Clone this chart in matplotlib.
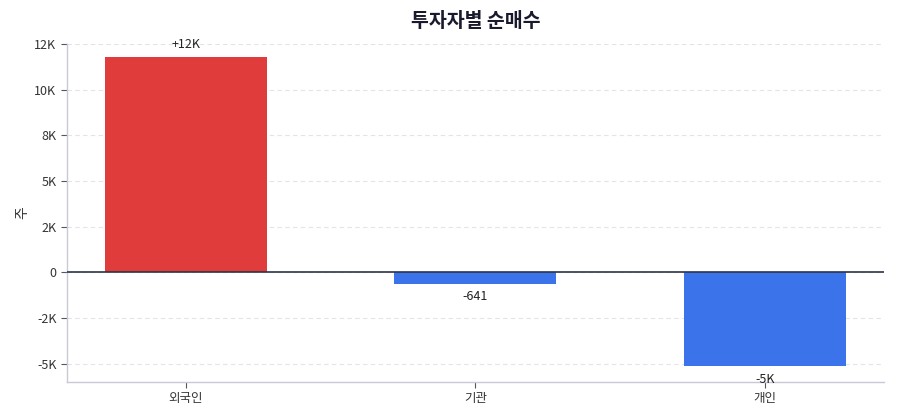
import numpy as np
import matplotlib.pyplot as plt
from matplotlib.ticker import FuncFormatter, MultipleLocator

plt.rcParams['font.family'] = ['Noto Sans CJK KR', 'DejaVu Sans']

investors = ['외국인', '기관', '개인']
net_buy = [11800, -641, -5140]
bar_labels = ['+12K', '-641', '-5K']

pos_color = '#e03c3c'
neg_color = '#3b73eb'


def fmt_k(v, _pos=None):
    if v == 0:
        return '0'
    if abs(v) >= 1000:
        return f'{round(v / 1000):.0f}K'
    return f'{v:.0f}'


fig = plt.figure(figsize=(9, 4.2), dpi=100)
ax = fig.add_axes([0.0744, 0.0905, 0.9076, 0.8045])

x = np.arange(len(investors))
colors = [pos_color if v >= 0 else neg_color for v in net_buy]
bars = ax.bar(x, net_buy, width=0.56, color=colors, zorder=3)

for b, v, lab in zip(bars, net_buy, bar_labels):
    cx = b.get_x() + b.get_width() / 2
    if v >= 0:
        ax.annotate(lab, (cx, v), xytext=(0, 4.5), textcoords='offset points',
                    ha='center', va='bottom', fontsize=9, color='#222222')
    else:
        ax.annotate(lab, (cx, v), xytext=(0, -4.5), textcoords='offset points',
                    ha='center', va='top', fontsize=9, color='#222222')

ax.axhline(0, color='#2e3447', linewidth=1.2, zorder=4)

ax.set_xlim(-0.41, 2.41)
ax.set_ylim(-6000, 12500)
ax.yaxis.set_major_locator(MultipleLocator(2500))
ax.yaxis.set_major_formatter(FuncFormatter(fmt_k))
ax.set_xticks(x)
ax.set_xticklabels(investors)

ax.grid(axis='y', linestyle=(0, (4, 3)), color='#e3e3e8', linewidth=0.8, zorder=0)
for s in ['top', 'right']:
    ax.spines[s].set_visible(False)
for s in ['left', 'bottom']:
    ax.spines[s].set_color('#c8cad8')
    ax.spines[s].set_linewidth(1)
ax.tick_params(axis='both', labelsize=9, colors='#333333', length=4)
ax.tick_params(axis='y', color='#555566')
ax.tick_params(axis='x', color='#555566')

ax.set_ylabel('주', fontsize=10, color='#333333', labelpad=4)
ax.set_title('투자자별 순매수', fontsize=14, fontweight='bold', color='#1a1a2e', pad=12)

fig.savefig('out.png', dpi=100)
